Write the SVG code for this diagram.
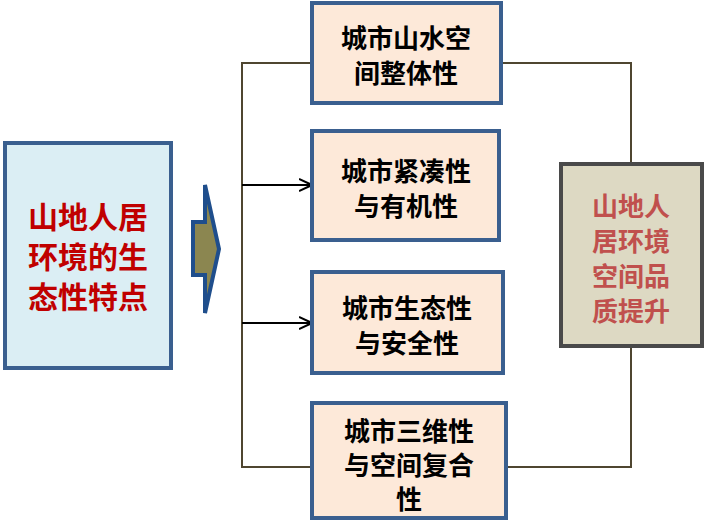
<svg xmlns="http://www.w3.org/2000/svg" width="704" height="530" viewBox="0 0 704 530">
<defs>
<style>
.box{fill:#fde9d9;stroke:#3a5f8f;stroke-width:4}
.t{font-family:"Noto Sans CJK SC",sans-serif;font-weight:bold;font-size:26px;text-anchor:middle}
.ln{fill:none;stroke:#4f4630;stroke-width:2}
.ar{fill:none;stroke:#000;stroke-width:2}
</style>
<marker id="a" viewBox="0 0 14 14" refX="13" refY="7" markerWidth="14" markerHeight="14" markerUnits="userSpaceOnUse" orient="auto"><path d="M0,1 L13,7 L0,13" fill="none" stroke="#000" stroke-width="2"/></marker>
</defs>
<g id="connectors">
<path class="ln" d="M312,63 H242 V467 H312"/>
<path class="ln" d="M501,63 H631 V163 M631,347 V467 H506"/>
<path class="ar" d="M242,185 H312" marker-end="url(#a)"/>
<path class="ar" d="M242,323 H312" marker-end="url(#a)"/>
</g>
<g id="left"><rect x="5" y="143" width="166" height="225" fill="#dbeef4" stroke="#3a5f8f" stroke-width="4"/>
<text class="t" fill="#c00000" style="font-size:30px"><tspan x="88" y="228">山地人居</tspan><tspan x="88" y="268">环境的生</tspan><tspan x="88" y="308">态性特点</tspan></text></g>
<g id="bigarrow"><path d="M193,222 H205 V185 L219,249 L205,313 V275 H193 Z" fill="#8b8650" stroke="#1f4e8c" stroke-width="4" stroke-linejoin="miter"/></g>
<g id="n1"><rect class="box" x="312" y="3" width="189" height="100"/><text class="t"><tspan x="406" y="48">城市山水空</tspan><tspan x="406" y="83">间整体性</tspan></text></g>
<g id="n2"><rect class="box" x="312" y="131" width="187" height="109"/><text class="t"><tspan x="406" y="181">城市紧凑性</tspan><tspan x="406" y="216">与有机性</tspan></text></g>
<g id="n3"><rect class="box" x="312" y="272" width="191" height="101"/><text class="t"><tspan x="407" y="318">城市生态性</tspan><tspan x="407" y="353">与安全性</tspan></text></g>
<g id="n4"><rect class="box" x="312" y="403" width="194" height="115"/><text class="t"><tspan x="409" y="441">城市三维性</tspan><tspan x="409" y="475">与空间复合</tspan><tspan x="409" y="509">性</tspan></text></g>
<g id="right"><rect x="561" y="164" width="141" height="182" fill="#ddd9c3" stroke="#4a4a4a" stroke-width="4"/>
<text class="t" fill="#c0504d"><tspan x="631" y="216">山地人</tspan><tspan x="631" y="251">居环境</tspan><tspan x="631" y="286">空间品</tspan><tspan x="631" y="321">质提升</tspan></text></g>
</svg>
